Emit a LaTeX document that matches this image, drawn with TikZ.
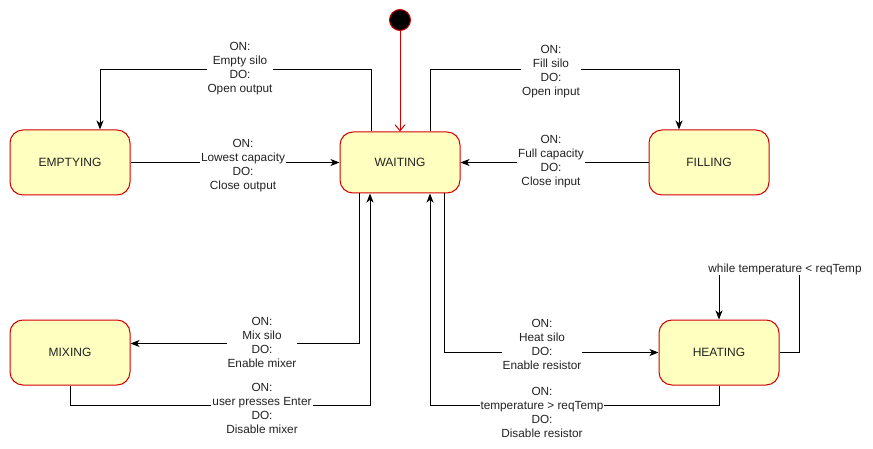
\documentclass[tikz,border=0pt]{standalone}
\usepackage{fontspec}
\setmainfont{Liberation Sans}
\definecolor{SMyellow}{HTML}{FFFFC0}
\definecolor{SMred}{HTML}{D20000}
\definecolor{SMtext}{HTML}{222222}
\usetikzlibrary{arrows.meta, positioning}

\tikzset{
   statebox/.style={draw=SMred, fill=SMyellow, line width=1pt, rounded corners=13pt,
      minimum width=120pt, minimum height=65pt, inner sep=0pt,
      text=SMtext, font=\fontsize{12}{14}\selectfont},
   startdot/.style={circle, draw=SMred, fill=black, line width=1pt, minimum size=21pt, inner sep=0pt},
   trans/.style={draw=black, line width=1pt, -{Stealth[length=9pt, width=7pt, inset=2.5pt]}},
   translabel/.style={fill=white, inner xsep=1pt, inner ysep=1pt, align=center,
      text=SMtext, font=\fontsize{11.8}{14}\selectfont}
}

\begin{document}
\begin{tikzpicture}[x=1pt, y=-1pt]
      \useasboundingbox (0,0) rectangle (873,449);
      % States
      \node[startdot] (start) at (400,20) {};
      \node[statebox, minimum height=61pt] (waiting) at (400,162.5) {WAITING};
      \node[statebox] (emptying) at (70,162.5) {EMPTYING};
      \node[statebox] (filling) at (709,162.5) {FILLING};
      \node[statebox] (mixing) at (70,352.5) {MIXING};
      \node[statebox] (heating) at (719,352.5) {HEATING};
      % Initial transition
      \draw[SMred, line width=1pt, -{Straight Barb[length=6pt, width=10pt]}] (start) -- (waiting);
      % Emptying loop
      \draw[trans] ([xshift=-29pt]waiting.north) -- ++(0,-62) -| ([xshift=30pt]emptying.north)
         node[translabel] at (240,69) {ON:\\Empty silo\\DO:\\Open output};
      \draw[trans] (emptying) -- (waiting)
         node[translabel] at (243,166) {ON:\\Lowest capacity\\DO:\\Close output};
      % Filling loop
      \draw[trans] ([xshift=30pt]waiting.north) -- ++(0,-62) -| ([xshift=-30pt]filling.north)
         node[translabel] at (551,72) {ON:\\Fill silo\\DO:\\Open input};
      \draw[trans] (filling) -- (waiting)
         node[translabel] at (551,162) {ON:\\Full capacity\\DO:\\Close input};
      % Mixing loop
      \draw[trans] ([xshift=-41pt]waiting.south) |- ([yshift=9pt]mixing.east)
         node[translabel] at (262,342) {ON:\\Mix silo\\DO:\\Enable mixer};
      \draw[trans] (mixing.south) -- ++(0,20) -| ([xshift=-30pt]waiting.south)
         node[translabel] at (262,408) {ON:\\user presses Enter\\DO:\\Disable mixer};
      % Heating loop
      \draw[trans] ([xshift=44pt]waiting.south) |- (heating.west)
         node[translabel] at (542,344) {ON:\\Heat silo\\DO:\\Enable resistor};
      \draw[trans] (heating.south) -- ++(0,20) -| ([xshift=30pt]waiting.south)
         node[translabel] at (542,412) {ON:\\temperature > reqTemp\\DO:\\Disable resistor};
      \draw[trans] (heating.east) -- ++(20,0) -- ++(0,-84) -| (heating.north)
         node[translabel] at (785,269) {while temperature < reqTemp};
   \end{tikzpicture}
\end{document}
